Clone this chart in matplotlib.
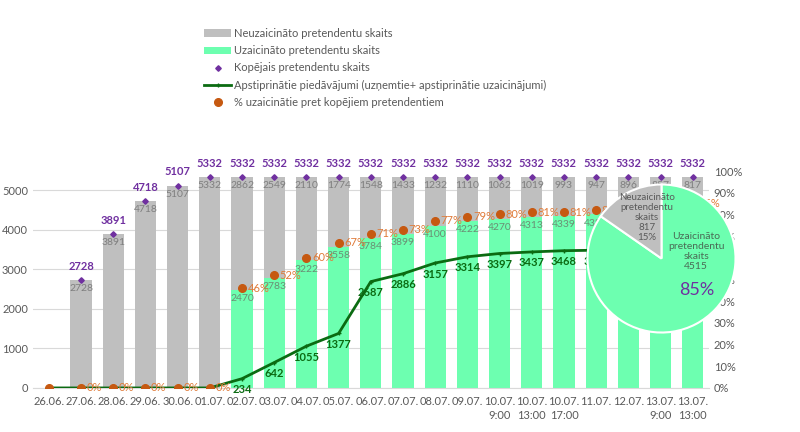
import matplotlib.pyplot as plt
import numpy as np

plt.rcParams["font.family"] = ["Lato", "DejaVu Sans"]

categories = ["26.06.", "27.06.", "28.06.", "29.06.", "30.06.", "01.07.", "02.07.",
              "03.07.", "04.07.", "05.07.", "06.07.", "07.07.", "08.07.", "09.07.",
              "10.07.\n9:00", "10.07.\n13:00", "10.07.\n17:00", "11.07.", "12.07.",
              "13.07.\n9:00", "13.07.\n13:00"]
total = [np.nan, 2728, 3891, 4718, 5107, 5332, 5332, 5332, 5332, 5332, 5332, 5332,
         5332, 5332, 5332, 5332, 5332, 5332, 5332, 5332, 5332]
invited = [0, 0, 0, 0, 0, 0, 2470, 2783, 3222, 3558, 3784, 3899, 4100, 4222,
           4270, 4313, 4339, 4385, 4436, 4475, 4515]
not_invited = [0, 2728, 3891, 4718, 5107, 5332, 2862, 2549, 2110, 1774, 1548, 1433,
               1232, 1110, 1062, 1019, 993, 947, 896, 857, 817]
confirmed = [0, 0, 0, 0, 0, 0, 234, 642, 1055, 1377, 2687, 2886, 3157, 3314,
             3397, 3437, 3468, 3480, 3495, 3505, 3515]
pct = [0, 0, 0, 0, 0, 0, 46, 52, 60, 67, 71, 73, 77, 79, 80, 81, 81, 82, 83, 84, 85]
pct_labels = ["", "0%", "0%", "0%", "0%", "0%", "46%", "52%", "60%", "67%", "71%",
              "73%", "77%", "79%", "80%", "81%", "81%", "82%", "83%", "84%", "85%"]
pie_values = [4515, 817]
pie_pct = ["85%", "15%"]

GREY = "#bfbfbf"
GREEN = "#6dffb0"
PURPLE = "#7030a0"
DKGREEN = "#0b6b12"
ORANGE = "#c65911"
TXT = "#595959"

fig = plt.figure(figsize=(8, 4.32), dpi=100)
ax = fig.add_axes([0.041, 0.102, 0.845, 0.502])
ax2 = ax.twinx()

x = np.arange(len(categories))
w = 0.66
ax.bar(x, invited, w, color=GREEN, label="Uzaicināto pretendentu skaits", zorder=2)
ax.bar(x, not_invited, w, bottom=invited, color=GREY,
       label="Neuzaicināto pretendentu skaits", zorder=2)
ax.plot(x, total, "D", color=PURPLE, ms=2.8, label="Kopējais pretendentu skaits", zorder=4)
ax.plot(x, confirmed, "-", color=DKGREEN, lw=2, marker="+", ms=3,
        label="Apstiprinātie piedāvājumi (uzņemtie+ apstiprinātie uzaicinājumi)", zorder=5)
ax2.plot(x, pct, "o", color=ORANGE, ms=5.5, zorder=5,
         label="% uzaicinātie pret kopējiem pretendentiem")

for i in range(len(x)):
    if not np.isnan(total[i]):
        ax.annotate(str(int(total[i])), (x[i], total[i]), xytext=(0, 6),
                    textcoords="offset points", ha="center", va="bottom",
                    color=PURPLE, fontsize=8, fontweight="bold", zorder=6)
    if not_invited[i] > 0:
        ax.annotate(str(not_invited[i]), (x[i], total[i]), xytext=(0, -3),
                    textcoords="offset points", ha="center", va="top",
                    color="#7f7f7f", fontsize=7.5, zorder=6)
    if invited[i] > 0:
        ax.annotate(str(invited[i]), (x[i], invited[i]), xytext=(0, -3),
                    textcoords="offset points", ha="center", va="top",
                    color="#6a8f74", fontsize=7.5, zorder=6)
    if confirmed[i] > 0:
        ax.annotate(str(confirmed[i]), (x[i], confirmed[i]), xytext=(0, -4),
                    textcoords="offset points", ha="center", va="top",
                    color=DKGREEN, fontsize=8, fontweight="bold", zorder=6)
    if pct_labels[i]:
        ax2.annotate(pct_labels[i], (x[i], pct[i]), xytext=(4, 0),
                     textcoords="offset points", ha="left", va="center",
                     color="#e07b39", fontsize=8, zorder=6)

ax.set_xlim(-0.5, len(x) - 0.5)
ax.set_ylim(0, 5480)
ax.set_yticks(range(0, 5001, 1000))
ax2.set_ylim(0, 100)
ax2.set_yticks(range(0, 101, 10))
ax2.set_yticklabels([f"{v}%" for v in range(0, 101, 10)])
ax.set_xticks(x)
ax.set_xticklabels(categories, fontsize=6, color="#7f7f7f", linespacing=1.3)
ax.yaxis.grid(True, color="#d9d9d9", lw=0.8, zorder=0)
ax.set_axisbelow(True)
for a in (ax, ax2):
    for s in a.spines.values():
        s.set_visible(False)
    a.tick_params(length=0, labelsize=8, labelcolor=TXT)
ax.spines["bottom"].set_visible(True)
ax.spines["bottom"].set_color("#d9d9d9")
ax.tick_params(axis="x", pad=6)
ax2.set_zorder(ax.get_zorder() + 1)

# legend in the same order as the reference
h1, l1 = ax.get_legend_handles_labels()
h2, l2 = ax2.get_legend_handles_labels()
lookup = dict(zip(l1 + l2, h1 + h2))
order = ["Neuzaicināto pretendentu skaits", "Uzaicināto pretendentu skaits",
         "Kopējais pretendentu skaits",
         "Apstiprinātie piedāvājumi (uzņemtie+ apstiprinātie uzaicinājumi)",
         "% uzaicinātie pret kopējiem pretendentiem"]
fig.legend([lookup[k] for k in order], order, loc="upper left",
           bbox_to_anchor=(0.25, 0.945), frameon=False, fontsize=8, labelcolor=TXT,
           handlelength=2.4, handletextpad=0.3, labelspacing=0.55, borderaxespad=0)

pax = fig.add_axes([586 / 800, 1 - 334 / 432, 151 / 800, 151 / 432])
pax.set_zorder(ax2.get_zorder() + 1)
pax.pie(pie_values, colors=[GREEN, GREY], startangle=90, counterclock=False,
        radius=1, wedgeprops=dict(edgecolor="white", linewidth=1.5))
pax.set_xlim(-1.02, 1.02)
pax.set_ylim(-1.02, 1.02)
pax.set_aspect("equal")
pax.text(-0.2, 0.55, f"Neuzaicināto\npretendentu\nskaits\n{pie_values[1]}\n{pie_pct[1]}",
         ha="center", va="center", fontsize=7, color=TXT, linespacing=1.15)
pax.text(0.47, 0.1, f"Uzaicināto\npretendentu\nskaits\n{pie_values[0]}",
         ha="center", va="center", fontsize=7.5, color="#4a6b55", linespacing=1.15)
pax.text(0.47, -0.42, pie_pct[0], ha="center", va="center", fontsize=13,
         color=PURPLE)

fig.savefig("out.png", dpi=100)
